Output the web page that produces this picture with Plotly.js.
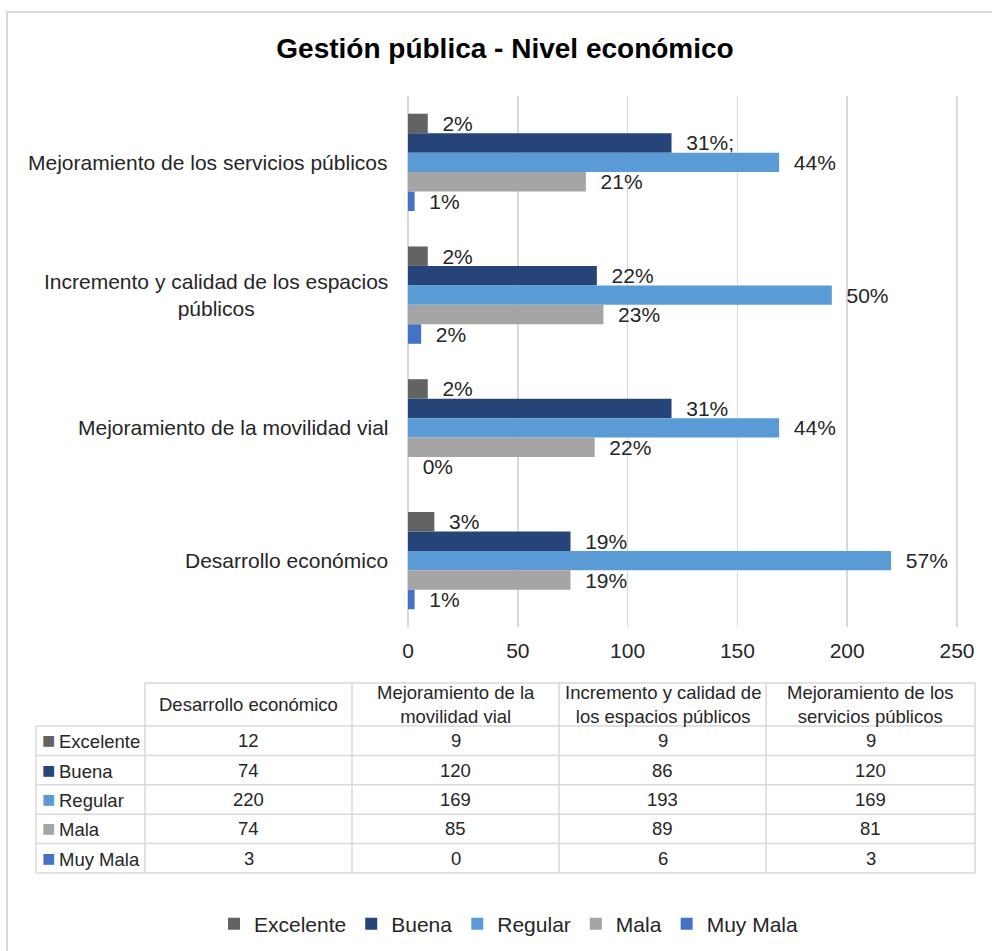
<!DOCTYPE html>
<html>
<head>
<meta charset="utf-8">
<script src="https://cdn.plot.ly/plotly-3.0.1.min.js"></script>
<style>html,body{margin:0;padding:0;background:#fff;}</style>
</head>
<body>
<div id="chart" style="width:992px;height:951px;"></div>
<script>
// ---- data ----
const categories = ["Desarrollo económico", "Mejoramiento de la movilidad vial", "Incremento y calidad de los espacios públicos", "Mejoramiento de los servicios públicos"];
const axisLabels = ["Desarrollo económico", "Mejoramiento de la movilidad vial", "Incremento y calidad de los espacios<br>públicos", "Mejoramiento de los servicios públicos"];
const tableHeaders = ["Desarrollo económico", "Mejoramiento de la<br>movilidad vial", "Incremento y calidad de<br>los espacios públicos", "Mejoramiento de los<br>servicios públicos"];
const seriesNames = ["Excelente", "Buena", "Regular", "Mala", "Muy Mala"];
const excelente = [12, 9, 9, 9];
const buena = [74, 120, 86, 120];
const regular = [220, 169, 193, 169];
const mala = [74, 85, 89, 81];
const muyMala = [3, 0, 6, 3];
const pctExcelente = ["3%", "2%", "2%", "2%"];
const pctBuena = ["19%", "31%", "22%", "31%;"];
const pctRegular = ["57%", "44%", "50%", "44%"];
const pctMala = ["19%", "22%", "23%", "21%"];
const pctMuyMala = ["1%", "0%", "2%", "1%"];
const xTicks = [0, 50, 100, 150, 200, 250];

// ---- styles ----
const colors = ["#636363", "#264478", "#5B9BD5", "#A5A5A5", "#4472C4"];
const FONT = "Liberation Sans, Arial, sans-serif";
const TXT = "#262626";
const GRID = "#d9d9d9";
const W = 992, H = 951;
const seriesVals = [excelente, buena, regular, mala, muyMala];
const seriesPct = [pctExcelente, pctBuena, pctRegular, pctMala, pctMuyMala];
const yOrder = categories.slice().reverse();

const traces = seriesNames.map((name, i) => ({
  type: "bar",
  orientation: "h",
  name: name,
  x: seriesVals[i],
  y: categories,
  text: seriesPct[i].map(t => "\u00a0\u00a0" + t),
  textposition: "outside",
  textfont: {family: FONT, size: 21, color: TXT},
  constraintext: "none",
  cliponaxis: false,
  marker: {color: colors[i], line: {width: 0}},
  hoverinfo: "skip"
}));

// ---- table geometry (pixels) ----
const colEdges = [36, 145, 352, 559, 766, 975];
const tTop = 683, headH = 43, rowH = 29.4;
const px = v => v / W;
const py = v => 1 - v / H;
const shapes = [];
const annotations = [];
const line = {color: GRID, width: 1.5};
const nRows = seriesNames.length;
const tBottom = tTop + headH + nRows * rowH;
// horizontal lines
shapes.push({type: "line", xref: "paper", yref: "paper", x0: px(colEdges[1]), x1: px(colEdges[5]), y0: py(tTop), y1: py(tTop), line});
for (let r = 0; r <= nRows; r++) {
  const y = tTop + headH + r * rowH;
  shapes.push({type: "line", xref: "paper", yref: "paper", x0: px(colEdges[0]), x1: px(colEdges[5]), y0: py(y), y1: py(y), line});
}
// vertical lines
shapes.push({type: "line", xref: "paper", yref: "paper", x0: px(colEdges[0]), x1: px(colEdges[0]), y0: py(tTop + headH), y1: py(tBottom), line});
for (let c = 1; c < colEdges.length; c++) {
  shapes.push({type: "line", xref: "paper", yref: "paper", x0: px(colEdges[c]), x1: px(colEdges[c]), y0: py(tTop), y1: py(tBottom), line});
}
// header texts
tableHeaders.forEach((h, j) => {
  annotations.push({xref: "paper", yref: "paper", x: px((colEdges[j + 1] + colEdges[j + 2]) / 2), y: py(tTop + headH / 2),
    text: h, showarrow: false, xanchor: "center", yanchor: "middle", align: "center",
    font: {family: FONT, size: 18.5, color: TXT}});
});
// rows
seriesNames.forEach((n, i) => {
  const yc = py(tTop + headH + (i + 0.5) * rowH);
  annotations.push({xref: "paper", yref: "paper", x: px(colEdges[0] + 4), y: yc,
    text: "<span style='color:" + colors[i] + ";font-size:22px'>■</span>\u2009" + n, showarrow: false,
    xanchor: "left", yanchor: "middle", align: "left",
    font: {family: FONT, size: 18.5, color: TXT}});
  categories.forEach((c, j) => {
    annotations.push({xref: "paper", yref: "paper", x: px((colEdges[j + 1] + colEdges[j + 2]) / 2), y: yc,
      text: String(seriesVals[i][j]), showarrow: false, xanchor: "center", yanchor: "middle",
      font: {family: FONT, size: 18.5, color: TXT}});
  });
});

// category labels
categories.forEach((c, j) => {
  annotations.push({
    xref: "x", yref: "y", x: 0, y: c,
    text: axisLabels[j],
    showarrow: false,
    xanchor: "right", yanchor: "middle",
    xshift: -18, align: "center",
    font: {family: FONT, size: 21, color: TXT}
  });
});

// outer border
shapes.push({
  type: "rect", xref: "paper", yref: "paper",
  x0: px(7), x1: 1.02, y0: -0.02, y1: py(12),
  line: {color: GRID, width: 2}, fillcolor: "rgba(0,0,0,0)", layer: "below"
});

const ppu = (957 - 408) / 250;
const layout = {
  width: W, height: H,
  margin: {l: 0, r: 0, t: 0, b: 0},
  paper_bgcolor: "white", plot_bgcolor: "white",
  font: {family: FONT, color: TXT},
  title: {
    text: "<b>Gestión pública - Nivel económico</b>",
    font: {family: FONT, size: 28, color: "#000"},
    xref: "container", yref: "container",
    x: 505 / W, y: 1 - 48 / H, xanchor: "center", yanchor: "middle"
  },
  barmode: "group",
  bargap: 0.267,
  bargroupgap: 0,
  xaxis: {
    domain: [px(408 - 0.5 * ppu), px(957 + 0.5 * ppu)],
    range: [-0.5, 250.5],
    tickvals: xTicks,
    showgrid: true, gridcolor: GRID, gridwidth: 1.5,
    zeroline: false, showline: false, ticks: "",
    tickfont: {family: FONT, size: 21, color: TXT},
    ticklabelstandoff: 9,
    automargin: false, fixedrange: true
  },
  yaxis: {
    domain: [py(627), py(96)],
    type: "category",
    categoryorder: "array", categoryarray: yOrder,
    autorange: "reversed",
    showticklabels: false, showgrid: false, zeroline: false, showline: false, ticks: "",
    automargin: false, fixedrange: true
  },
  showlegend: true,
  legend: {
    orientation: "h", traceorder: "normal",
    x: 509 / W, xanchor: "center",
    y: py(924), yanchor: "middle",
    font: {family: FONT, size: 21, color: TXT},
    itemwidth: 30
  },
  annotations: annotations,
  shapes: shapes
};

Plotly.newPlot("chart", traces, layout, {displayModeBar: false, staticPlot: true});
</script>
</body>
</html>
